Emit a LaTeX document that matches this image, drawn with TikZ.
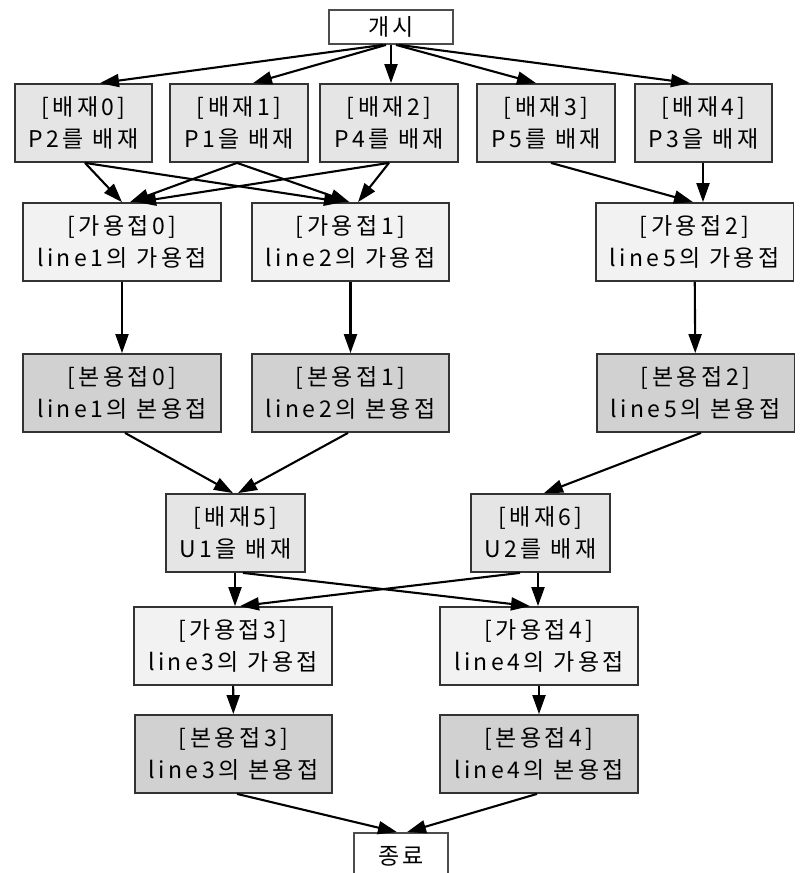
\documentclass[tikz,border=0pt]{standalone}
\usepackage{fontspec}
\setmainfont{Noto Sans CJK KR}[LetterSpace=15]
\usetikzlibrary{arrows.meta}
\begin{document}
\begin{tikzpicture}[
	x = 1pt, y = -1pt, % pixel grid of the chart
	> = {Triangle[length=19pt,width=13pt]}, % arrow head style
	line width = 2.1pt, % line style
	font = \fontsize{23}{32}\selectfont
	]
	
	\tikzstyle{box}=[
	draw = black!80,
	line width = 1.8pt,
	align = center,
	minimum height = 78pt,
	inner xsep = 14pt
	]
	\tikzstyle{excl}=[box, fill = black!10]
	\tikzstyle{tack}=[box, fill = black!5]
	\tikzstyle{weld}=[box, fill = black!18]
	\tikzstyle{terminal}=[draw = black!70, fill = white, line width = 1.8pt, minimum height = 34pt]
	
	\useasboundingbox (0,0) rectangle (806,873);
	
	\node[terminal, minimum width=124pt] (start) at (391,27) {개시};
	\node[excl] (b0) at (83.5,123) {[배재0]\\P2를 배재};
	\node[excl] (b1) at (239,123) {[배재1]\\P1을 배재};
	\node[excl] (b2) at (389,123) {[배재2]\\P4를 배재};
	\node[excl] (b3) at (546,123) {[배재3]\\P5를 배재};
	\node[excl] (b4) at (703.5,123) {[배재4]\\P3을 배재};
	\node[tack] (g0) at (122,242) {[가용접0]\\line1의 가용접};
	\node[tack] (g1) at (350.5,242) {[가용접1]\\line2의 가용접};
	\node[tack] (g2) at (694.5,242) {[가용접2]\\line5의 가용접};
	\node[weld] (w0) at (122,393) {[본용접0]\\line1의 본용접};
	\node[weld] (w1) at (350.5,393) {[본용접1]\\line2의 본용접};
	\node[weld] (w2) at (695.5,393) {[본용접2]\\line5의 본용접};
	\node[excl] (b5) at (235.5,533) {[배재5]\\U1을 배재};
	\node[excl] (b6) at (540.5,533) {[배재6]\\U2를 배재};
	\node[tack] (g3) at (233,646) {[가용접3]\\line3의 가용접};
	\node[tack] (g4) at (539,646) {[가용접4]\\line4의 가용접};
	\node[weld] (w3) at (233.5,754) {[본용접3]\\line3의 본용접};
	\node[weld] (w4) at (539,754) {[본용접4]\\line4의 본용접};
	\node[terminal, minimum width=94pt, minimum height=46pt] (end) at (401,856) {종료};
	
	\path[->]
	([xshift=-8pt]start.south) edge ([xshift=16.5pt]b0.north)
	([xshift=-5pt]start.south) edge ([xshift=14pt]b1.north)
	(start.south) edge ([xshift=2pt]b2.north)
	([xshift=5pt]start.south) edge ([xshift=-10pt]b3.north)
	([xshift=8pt]start.south) edge ([xshift=-13.5pt]b4.north)
	([xshift=1.5pt]b0.south) edge (g0.north)
	([xshift=1.5pt]b0.south) edge ([xshift=-7.5pt]g1.north)
	([xshift=-2pt]b1.south) edge ([xshift=8pt]g0.north)
	([xshift=-2pt]b1.south) edge ([xshift=-1pt]g1.north)
	(b2.south) edge ([xshift=15pt]g0.north)
	(b2.south) edge ([xshift=7.5pt]g1.north)
	([xshift=5pt]b3.south) edge ([xshift=-1.5pt]g2.north)
	([xshift=-0.5pt]b4.south) edge ([xshift=8.5pt]g2.north)
	(g0) edge (w0)
	(g1) edge (w1)
	(g2) edge (w2)
	([xshift=3pt]w0.south) edge ([xshift=-2.5pt]b5.north)
	([xshift=-2.5pt]w1.south) edge ([xshift=2.5pt]b5.north)
	([xshift=5.5pt]w2.south) edge ([xshift=3.5pt]b6.north)
	([xshift=-0.5pt]b5.south) edge ([xshift=2pt]g3.north)
	([xshift=7.5pt]b5.south) edge ([xshift=-9pt]g4.north)
	([xshift=-20.5pt]b6.south) edge ([xshift=7pt]g3.north)
	([xshift=-2.5pt]b6.south) edge ([xshift=-1pt]g4.north)
	(g3) edge (w3)
	(g4) edge (w4)
	([xshift=3.5pt]w3.south) edge ([xshift=-4pt]end.north)
	([xshift=-2pt]w4.south) edge ([xshift=6pt]end.north);
	
\end{tikzpicture}
\end{document}
